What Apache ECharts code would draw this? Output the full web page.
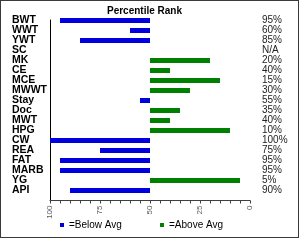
<!DOCTYPE html>
<html>
<head>
<meta charset="utf-8">
<script src="https://cdn.jsdelivr.net/npm/echarts@6/dist/echarts.min.js"></script>
<style>
html, body { margin: 0; padding: 0; background: #fff; }
#main { position: absolute; left: 0; top: 0; width: 300px; height: 240px; }
#frame { position: absolute; left: 0; top: 0; width: 297px; height: 236px; border: 1px solid #3a3a3a; pointer-events: none; }
</style>
</head>
<body>
<div id="main"></div>
<div id="frame"></div>
<script>
// measures, top to bottom
const categories = ['BWT', 'WWT', 'YWT', 'SC', 'MK', 'CE', 'MCE', 'MWWT', 'Stay', 'Doc', 'MWT', 'HPG', 'CW', 'REA', 'FAT', 'MARB', 'YG', 'API'];
// percentile rank (null = N/A)
const percentiles = [95, 60, 85, null, 20, 40, 15, 30, 55, 35, 40, 10, 100, 75, 95, 95, 5, 90];
const rankLabels = ['95%', '60%', '85%', 'N/A', '20%', '40%', '15%', '30%', '55%', '35%', '40%', '10%', '100%', '75%', '95%', '95%', '5%', '90%'];
const xLabelStep = 25;
const avg = 50;

const baseData = percentiles.map(p => p == null ? 0 : Math.min(p, avg));
const belowData = percentiles.map(p => p != null && p > avg ? p - avg : 0);
const aboveData = percentiles.map(p => p != null && p < avg ? avg - p : 0);

const myChart = echarts.init(document.getElementById('main'));

const option = {
  animation: false,
  textStyle: { fontFamily: 'Liberation Sans' },
  title: {
    text: 'Percentile Rank',
    left: 107,
    top: 6,
    padding: 0,
    textStyle: { fontSize: 10, fontWeight: 'bold', color: '#000' }
  },
  legend: [
    {
      data: ['=Below Avg'], left: 60, top: 220, padding: 0,
      icon: 'rect', itemWidth: 4, itemHeight: 4,
      textStyle: { fontSize: 10, color: '#000' }
    },
    {
      data: ['=Above Avg'], left: 160, top: 220, padding: 0,
      icon: 'rect', itemWidth: 4, itemHeight: 4,
      textStyle: { fontSize: 10, color: '#000' }
    }
  ],
  grid: [
    // bars and labels
    { left: 50, right: 50, top: 15.5, bottom: 44.5 },
    // axis frame
    { left: 50, right: 50, top: 20, bottom: 39.5 }
  ],
  xAxis: [
    { gridIndex: 0, type: 'value', min: 0, max: 100, inverse: true, show: false },
    {
      gridIndex: 1, type: 'value', min: 0, max: 100, interval: 5, inverse: true,
      axisLine: { show: true, onZero: false, lineStyle: { color: '#404040' } },
      axisTick: { show: true, length: 3, lineStyle: { color: '#404040' } },
      axisLabel: {
        rotate: 90, fontSize: 8, color: '#595959', margin: 5,
        formatter: v => (v % xLabelStep === 0 ? String(v) : '')
      },
      splitLine: { show: false }
    }
  ],
  yAxis: [
    {
      gridIndex: 0, type: 'category', data: categories, inverse: true, position: 'left',
      axisLine: { show: false, onZero: false }, axisTick: { show: false },
      axisLabel: { interval: 0, align: 'left', margin: 38, fontSize: 10.5, fontWeight: 'bold', color: '#000' }
    },
    {
      gridIndex: 0, type: 'category', data: categories, inverse: true, position: 'right',
      axisLine: { show: false, onZero: false }, axisTick: { show: false },
      axisLabel: { interval: 0, align: 'left', margin: 12, fontSize: 10, color: '#222', formatter: (v, i) => rankLabels[i] }
    },
    {
      gridIndex: 1, type: 'category', data: categories, inverse: true, position: 'left',
      axisLine: { show: true, onZero: false, lineStyle: { color: '#000' } },
      axisTick: { show: false }, axisLabel: { show: false }
    }
  ],
  series: [
    {
      name: 'base', type: 'bar', stack: 'rank', xAxisIndex: 0, yAxisIndex: 0,
      barWidth: 5, silent: true,
      itemStyle: { color: 'transparent' },
      data: baseData
    },
    {
      name: '=Below Avg', type: 'bar', stack: 'rank', xAxisIndex: 0, yAxisIndex: 0,
      barWidth: 5, itemStyle: { color: '#0000dd' },
      data: belowData
    },
    {
      name: '=Above Avg', type: 'bar', stack: 'rank', xAxisIndex: 0, yAxisIndex: 0,
      barWidth: 5, itemStyle: { color: '#008000' },
      data: aboveData
    }
  ]
};

myChart.setOption(option);
</script>
</body>
</html>
